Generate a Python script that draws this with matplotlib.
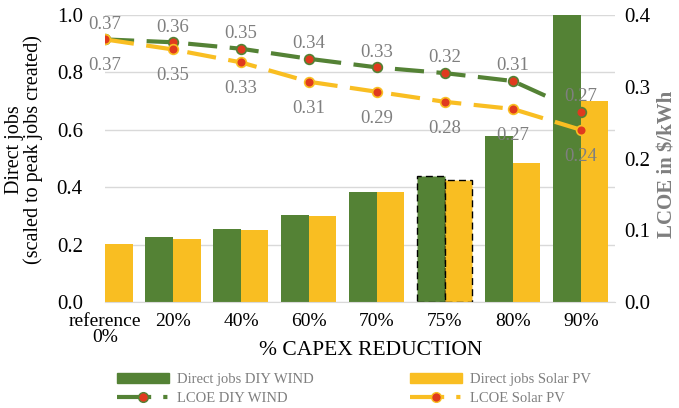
import numpy as np
import matplotlib.pyplot as plt
from matplotlib.lines import Line2D
from matplotlib.patches import Patch

categories = ["reference\n0%", "20%", "40%", "60%", "70%", "75%", "80%", "90%"]
jobs_wind = [0.0, 0.226, 0.254, 0.303, 0.385, 0.44, 0.58, 1.0]
jobs_solar = [0.202, 0.22, 0.25, 0.30, 0.385, 0.425, 0.485, 0.70]
lcoe_wind = [0.366, 0.362, 0.353, 0.339, 0.327, 0.319, 0.308, 0.265]
lcoe_solar = [0.366, 0.352, 0.334, 0.307, 0.293, 0.279, 0.269, 0.240]
lbl_wind = ["0.37", "0.36", "0.35", "0.34", "0.33", "0.32", "0.31", "0.27"]
lbl_solar = ["0.37", "0.35", "0.33", "0.31", "0.29", "0.28", "0.27", "0.24"]

green = "#548235"
yellow = "#F9BE22"
red = "#E03A1E"
gray = "#7F7F7F"

plt.rcParams["font.family"] = ["Liberation Serif", "DejaVu Serif"]

fig = plt.figure(figsize=(6.79, 4.08), dpi=100)
ax = fig.add_axes([0.1546, 0.2598, 0.751, 0.7034])
ax2 = ax.twinx()

x = np.arange(len(categories))
w = 0.405
bw = ax.bar(x - w / 2, jobs_wind, w, color=green, zorder=2)
bs = ax.bar(x + w / 2, jobs_solar, w, color=yellow, zorder=2)
# dashed outline for the 75% case
for b in (bw[5], bs[5]):
    b.set_edgecolor("black")
    b.set_linestyle((0, (5, 3)))
    b.set_linewidth(1.0)

ax.set_xlim(0, 7.5)
ax.set_ylim(0, 1.0)
ax.set_yticks(np.arange(0, 1.01, 0.2))
ax.set_yticklabels(["%.1f" % v for v in np.arange(0, 1.01, 0.2)], fontsize=15)
ax.set_xticks(x)
ax.set_xticklabels(categories, fontsize=14, linespacing=0.95)
ax.tick_params(axis="y", length=0, pad=16)
ax.tick_params(axis="x", length=0, pad=8)
ax.grid(axis="y", color="#D9D9D9", lw=1, zorder=0)
ax.set_axisbelow(True)
for s in ["top", "left", "right"]:
    ax.spines[s].set_visible(False)
    ax2.spines[s].set_visible(False)
ax.spines["bottom"].set_color("#D9D9D9")
ax2.spines["bottom"].set_visible(False)
ax.set_ylabel("Direct jobs\n(scaled to peak jobs created)", fontsize=14.5, linespacing=0.95)
ax.yaxis.set_label_coords(-0.122, 0.53)
ax.set_xlabel("% CAPEX REDUCTION", fontsize=15.5)
ax.xaxis.set_label_coords(0.52, -0.136)

dash = (0, (7, 3))
ax2.plot(x, lcoe_wind, color=green, lw=3, ls=dash, marker="o", ms=7,
         mfc=red, mec=green, mew=1.2, zorder=3)
ax2.plot(x, lcoe_solar, color=yellow, lw=3, ls=dash, marker="o", ms=7,
         mfc=red, mec=yellow, mew=1.2, zorder=3)
ax2.set_ylim(0, 0.4)
ax2.set_yticks([0, 0.1, 0.2, 0.3, 0.4])
ax2.set_yticklabels(["0.0", "0.1", "0.2", "0.3", "0.4"], fontsize=15)
ax2.tick_params(length=0, pad=7)
ax2.set_ylabel("LCOE in $/kWh", fontsize=15, fontweight="bold", color=gray)
ax2.yaxis.set_label_coords(1.083, 0.48)

for i in range(len(x)):
    ax2.annotate(lbl_wind[i], (x[i], lcoe_wind[i]), xytext=(0, 11), textcoords="offset points",
                 ha="center", va="center", fontsize=13.5, color=gray)
    ax2.annotate(lbl_solar[i], (x[i], lcoe_solar[i]), xytext=(0, -19), textcoords="offset points",
                 ha="center", va="center", fontsize=13.5, color=gray)

leg_ls = (0, (8.2, 2.9, 1.0, 10))
handles = [
    Patch(color=green, label="Direct jobs DIY WIND"),
    Line2D([], [], color=green, lw=3, ls=leg_ls, marker="o", ms=7, mfc=red, mec=green,
           label="LCOE DIY WIND"),
    Patch(color=yellow, label="Direct jobs Solar PV"),
    Line2D([], [], color=yellow, lw=3, ls=leg_ls, marker="o", ms=7, mfc=red, mec=yellow,
           label="LCOE Solar PV"),
]
leg = fig.legend(handles=handles, ncol=2, loc="lower center", bbox_to_anchor=(0.521, -0.025),
                 frameon=False, fontsize=10.5, columnspacing=6.6, handlelength=3.6,
                 labelspacing=0.4, handletextpad=0.5)
for t in leg.get_texts():
    t.set_color(gray)

fig.savefig("out.png", dpi=100)
